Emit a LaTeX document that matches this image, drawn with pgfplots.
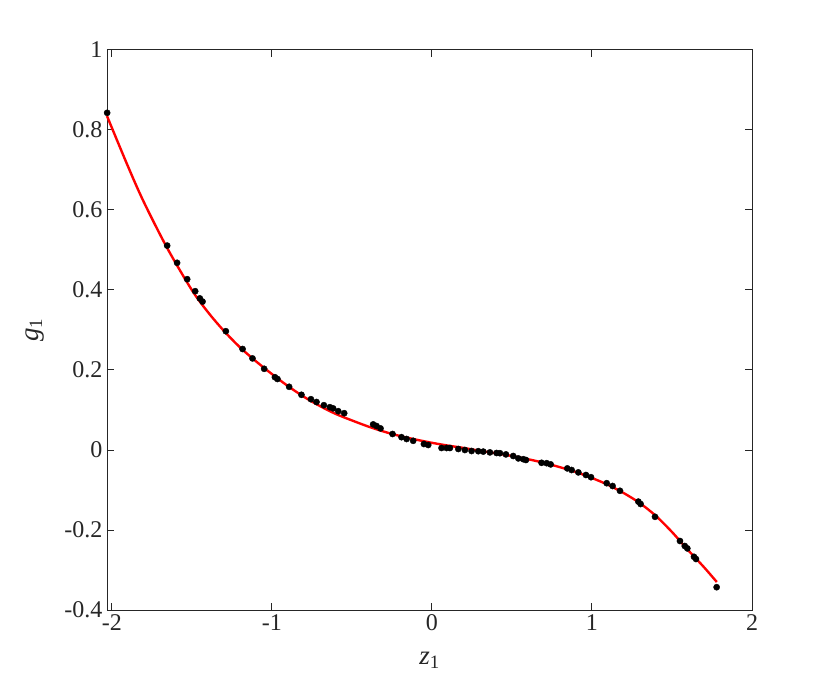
\documentclass[border=0pt]{standalone}
\usepackage{pgfplots}
\pgfplotsset{compat=1.18}
\usepackage{fontspec}
\setmainfont{Liberation Serif}
\definecolor{axgray}{RGB}{38,38,38}
\begin{document}
\begin{tikzpicture}
\useasboundingbox (-107bp,-76bp) rectangle (723bp,610bp);
\begin{axis}[
  scale only axis,
  width=645bp, height=560bp,
  xmin=-2.03, xmax=2, ymin=-0.4, ymax=1,
  xtick={-2,-1,0,1,2},
  ytick={-0.4,-0.2,0,0.2,0.4,0.6,0.8,1},
  yticklabels={-0.4,-0.2,0,0.2,0.4,0.6,0.8,1},
  xticklabels={-2,-1,0,1,2},
  /pgf/number format/assume math mode=true,
  tick align=inside,
  major tick length=7bp,
  axis line style={axgray, line width=1pt},
  every tick/.style={axgray, line width=1pt},
  tick label style={font=\fontsize{24bp}{27bp}\selectfont, text=axgray},
  xticklabel style={yshift=-1bp},
  yticklabel style={xshift=-1bp},
  xlabel={\textit{z}\textsubscript{1}},
  ylabel={\textit{g}\textsubscript{1}},
  label style={font=\fontsize{27bp}{30bp}\selectfont, text=axgray},
  xlabel style={at={(axis description cs:0.5,-0.089)}, anchor=center},
  ylabel style={at={(axis description cs:-0.112,0.5)}, anchor=center},
  clip=false,
]
\addplot[red, line width=2.4pt, smooth] coordinates {
(-2.03,0.835) (-1.9,0.71) (-1.8,0.62) (-1.654,0.505) (-1.5,0.40) (-1.4,0.345)
(-1.3,0.298) (-1.2,0.257) (-1.1,0.222) (-1.0,0.19) (-0.9,0.16) (-0.8,0.133)
(-0.7,0.11) (-0.6,0.09) (-0.5,0.074) (-0.4,0.059) (-0.3,0.046) (-0.2,0.035)
(-0.1,0.026) (0,0.018) (0.1,0.011) (0.2,0.005) (0.3,-0.002) (0.4,-0.008)
(0.5,-0.015) (0.6,-0.023) (0.7,-0.032) (0.8,-0.043) (0.9,-0.055) (1.0,-0.07)
(1.1,-0.087) (1.2,-0.108) (1.3,-0.133) (1.4,-0.165) (1.5,-0.205) (1.6,-0.25)
(1.7,-0.293) (1.78,-0.33)
};
\addplot[only marks, mark=*, mark size=3.1bp, black] coordinates {
(-2.029,0.843) (-1.654,0.511) (-1.592,0.468) (-1.529,0.427) (-1.479,0.397)
(-1.45,0.379) (-1.433,0.371) (-1.2875,0.297) (-1.183,0.2525) (-1.121,0.229)
(-1.048,0.203) (-0.981,0.182) (-0.965,0.1775) (-0.892,0.158) (-0.815,0.138)
(-0.756,0.127) (-0.721,0.12) (-0.675,0.112) (-0.6375,0.107) (-0.617,0.104)
(-0.585,0.097) (-0.548,0.092)
(-0.367,0.064) (-0.346,0.06) (-0.321,0.054) (-0.246,0.04) (-0.19,0.032)
(-0.158,0.0275) (-0.117,0.023) (-0.05,0.015) (-0.023,0.0125) (0.06,0.005)
(0.092,0.005) (0.1125,0.005) (0.165,0.0025) (0.206,0.0) (0.248,-0.0025)
(0.29,-0.003) (0.321,-0.004) (0.3625,-0.006) (0.404,-0.0075) (0.425,-0.008)
(0.4625,-0.011) (0.508,-0.015) (0.54,-0.021) (0.571,-0.023) (0.5875,-0.025)
(0.685,-0.032) (0.717,-0.033) (0.742,-0.036) (0.846,-0.046) (0.873,-0.05)
(0.915,-0.056) (0.9625,-0.0625) (0.994,-0.068) (1.092,-0.083) (1.129,-0.09)
(1.175,-0.102) (1.29,-0.129) (1.304,-0.135) (1.394,-0.167) (1.55,-0.2275)
(1.58,-0.24) (1.596,-0.246) (1.6375,-0.267) (1.65,-0.2725) (1.779,-0.343)
};
\end{axis}
\end{tikzpicture}
\end{document}
